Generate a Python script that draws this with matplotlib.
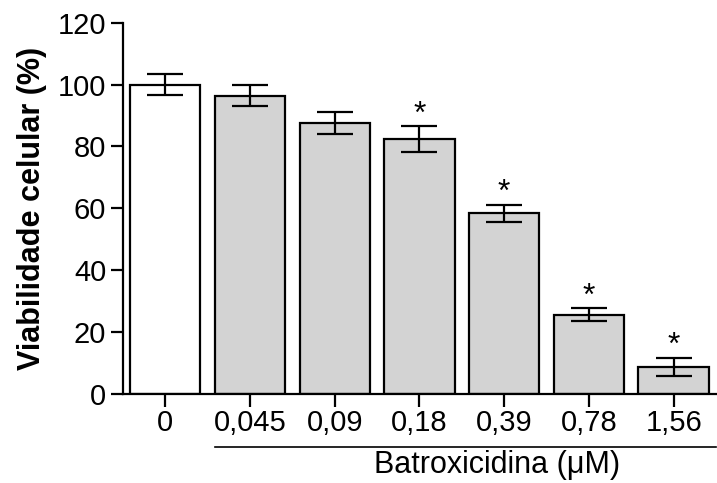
import matplotlib.pyplot as plt
import matplotlib.transforms as mtransforms

plt.rcParams['font.family'] = ['Liberation Sans', 'DejaVu Sans']

# Data
labels = ['0', '0,045', '0,09', '0,18', '0,39', '0,78', '1,56']
viab = [100.0, 96.5, 87.6, 82.4, 58.4, 25.5, 8.7]
err = [3.4, 3.4, 3.7, 4.2, 2.8, 2.1, 2.9]
signif = [False, False, False, True, True, True, True]

fig = plt.figure(figsize=(7.17, 4.83), dpi=100)
ax = fig.add_axes([0.1715, 0.1853, 0.8271, 0.7671])

x = range(len(labels))
colors = ['white'] + ['#d3d3d3'] * (len(labels) - 1)
ax.bar(x, viab, width=0.83, color=colors, edgecolor='black', linewidth=1.6, zorder=2)
ax.errorbar(x, viab, yerr=err, fmt='none', ecolor='black', elinewidth=1.6,
            capsize=13, capthick=1.6, zorder=3)

for i, (v, e, s) in enumerate(zip(viab, err, signif)):
    if s:
        ax.text(i, v + e - 1.2, '*', ha='center', va='bottom', fontsize=23)

ax.set_xlim(-0.5, 6.5)
ax.set_ylim(0, 120)
ax.set_yticks([0, 20, 40, 60, 80, 100, 120])
ax.set_xticks(list(x))
ax.set_xticklabels(labels)
ax.tick_params(axis='both', labelsize=21, width=1.6, length=9, direction='out')
ax.tick_params(axis='x', pad=2)
ax.tick_params(axis='y', pad=3)

for side in ['top', 'right']:
    ax.spines[side].set_visible(False)
for side in ['left', 'bottom']:
    ax.spines[side].set_linewidth(1.6)

ax.set_ylabel('Viabilidade celular (%)', fontsize=22, fontweight='bold', labelpad=8)

# Treatment bracket line and label
trans = mtransforms.blended_transform_factory(ax.transData, ax.transAxes)
ax.plot([0.59, 6.5], [-0.145, -0.145], color='black', linewidth=1.2,
        transform=trans, clip_on=False)
ax.text(3.92, -0.193, 'Batroxicidina (\u03bcM)', ha='center', va='center',
        fontsize=22, transform=trans)

fig.savefig('out.png', dpi=100)
